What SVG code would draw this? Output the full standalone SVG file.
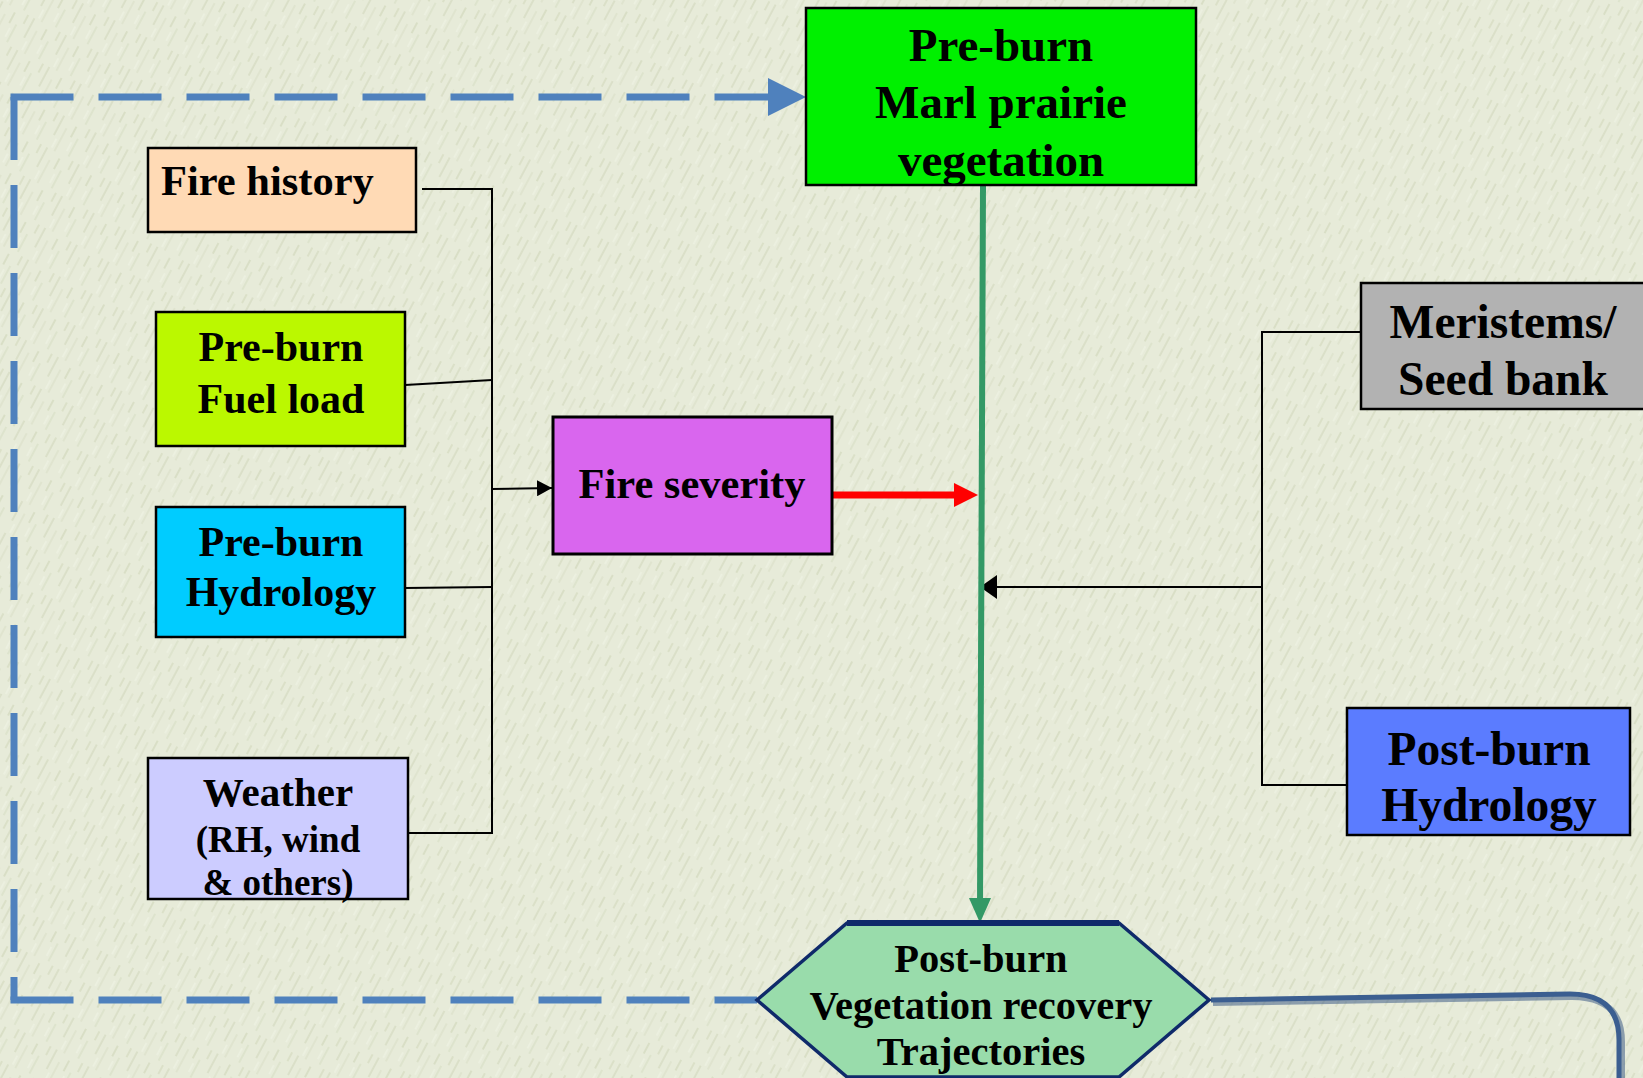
<svg xmlns="http://www.w3.org/2000/svg" width="1643" height="1078" viewBox="0 0 1643 1078">
<defs>
<style>
.t{font-family:"Liberation Serif","Times New Roman",serif;font-weight:bold;fill:#000;text-anchor:middle}
.box{stroke:#000;stroke-width:2.5}
.thin{fill:none;stroke:#000;stroke-width:2}
.dash{fill:none;stroke:#4f81bd;stroke-width:7;stroke-dasharray:63 25}
</style>
<pattern id="tex" width="36" height="36" patternUnits="userSpaceOnUse" patternTransform="rotate(28)">
<rect width="36" height="36" fill="#e7ebd9"/>
<line x1="3" y1="0" x2="3" y2="22" stroke="#b9c29a" stroke-width="0.8" opacity="0.7"/>
<line x1="11" y1="10" x2="11" y2="36" stroke="#c4cba8" stroke-width="0.7" opacity="0.6"/>
<line x1="19" y1="4" x2="19" y2="16" stroke="#aab48a" stroke-width="0.8" opacity="0.6"/>
<line x1="26" y1="14" x2="26" y2="34" stroke="#bfc7a2" stroke-width="0.7" opacity="0.65"/>
<line x1="32" y1="0" x2="32" y2="10" stroke="#b3bc92" stroke-width="0.8" opacity="0.6"/>
<line x1="7" y1="24" x2="7" y2="34" stroke="#f4f6ec" stroke-width="1" opacity="0.7"/>
<line x1="22" y1="20" x2="22" y2="30" stroke="#f4f6ec" stroke-width="1" opacity="0.7"/>
</pattern>
<marker id="blk" markerWidth="16" markerHeight="16" refX="15" refY="8" orient="auto" markerUnits="userSpaceOnUse">
<path d="M0,0 L15,8 L0,16 Z" fill="#000"/>
</marker>
<marker id="blk2" markerWidth="18" markerHeight="24" refX="17" refY="12" orient="auto" markerUnits="userSpaceOnUse">
<path d="M0,0 L17,12 L0,24 Z" fill="#000"/>
</marker>
</defs>
<rect width="1643" height="1078" fill="url(#tex)"/>

<g id="connectors">
<!-- dashed feedback loop -->
<path class="dash" d="M14,97 V1000"/>
<path class="dash" d="M10.5,97 H770"/>
<path class="dash" d="M10.5,1000 H757"/>
<path d="M768,78 L806,97 L768,116 Z" fill="#4f81bd"/>
<!-- left bracket -->
<path class="thin" d="M422,189 H492 V833 H408"/>
<path class="thin" d="M405,385 L492,380"/>
<path class="thin" d="M405,588 L492,587"/>
<path class="thin" d="M492,489 L552,488" marker-end="url(#blk)"/>
<!-- right bracket -->
<path class="thin" d="M1361,332 H1262 V785 H1347"/>
<path class="thin" d="M1262,587 H980" marker-end="url(#blk2)"/>
<!-- green main line -->
<path d="M983,185 L980,905" fill="none" stroke="#339966" stroke-width="6"/>
<path d="M969,898 L980,923 L991,898 Z" fill="#339966"/>
<!-- red arrow -->
<path d="M833,495 H955" fill="none" stroke="#ff0000" stroke-width="7"/>
<path d="M954,483 L978,495 L954,507 Z" fill="#ff0000"/>
<!-- outgoing line from hexagon -->
<path d="M1211,1001 L1570,995 Q1620,995 1620,1040 V1080" fill="none" stroke="#2f4f7f" stroke-width="6" opacity="0.5" transform="translate(2,2)"/>
<path d="M1211,1000 L1570,994 Q1619,994 1619,1040 V1080" fill="none" stroke="#3b5e90" stroke-width="5"/>
</g>

<g id="node-preburn-veg">
<rect class="box" x="806" y="8" width="390" height="177" fill="#00f000"/>
<text class="t" x="1001" y="61" font-size="47">Pre-burn</text>
<text class="t" x="1001" y="118" font-size="47">Marl prairie</text>
<text class="t" x="1001" y="176" font-size="47">vegetation</text>
</g>

<g id="node-fire-history">
<rect class="box" x="148" y="148" width="268" height="84" fill="#ffdab5"/>
<text class="t" x="161" y="195" font-size="42.5" style="text-anchor:start">Fire history</text>
</g>

<g id="node-fuel-load">
<rect class="box" x="156" y="312" width="249" height="134" fill="#bbf800"/>
<text class="t" x="281" y="361" font-size="42">Pre-burn</text>
<text class="t" x="281" y="413" font-size="42">Fuel load</text>
</g>

<g id="node-hydrology">
<rect class="box" x="156" y="507" width="249" height="130" fill="#00ccff"/>
<text class="t" x="281" y="556" font-size="42">Pre-burn</text>
<text class="t" x="281" y="606" font-size="42">Hydrology</text>
</g>

<g id="node-weather">
<rect class="box" x="148" y="758" width="260" height="141" fill="#ccccff"/>
<text class="t" x="278" y="806" font-size="41">Weather</text>
<text class="t" x="278" y="852" font-size="37">(RH, wind</text>
<text class="t" x="278" y="895" font-size="37">&amp; others)</text>
</g>

<g id="node-fire-severity">
<rect x="553" y="417" width="279" height="137" fill="#d966ee" stroke="#000" stroke-width="3"/>
<text class="t" x="692" y="498" font-size="42.5">Fire severity</text>
</g>

<g id="node-meristems">
<rect class="box" x="1361" y="283" width="290" height="126" fill="#b2b2b2"/>
<text class="t" x="1503" y="338" font-size="47.5">Meristems/</text>
<text class="t" x="1503" y="395" font-size="47.5">Seed bank</text>
</g>

<g id="node-postburn-hydrology">
<rect class="box" x="1347" y="708" width="283" height="127" fill="#5b7cff"/>
<text class="t" x="1489" y="765" font-size="47.5">Post-burn</text>
<text class="t" x="1489" y="821" font-size="47.5">Hydrology</text>
</g>

<g id="node-recovery">
<path d="M847,923 H1119 L1209,1000 L1119,1077 H847 L757,1000 Z" fill="#99dcab" stroke="#0f2a6a" stroke-width="3.5"/>
<line x1="847" y1="923" x2="1119" y2="923" stroke="#0f2a6a" stroke-width="6"/>
<text class="t" x="981" y="972" font-size="40.5">Post-burn</text>
<text class="t" x="981" y="1019" font-size="40.5">Vegetation recovery</text>
<text class="t" x="981" y="1065" font-size="40.5">Trajectories</text>
</g>
</svg>
